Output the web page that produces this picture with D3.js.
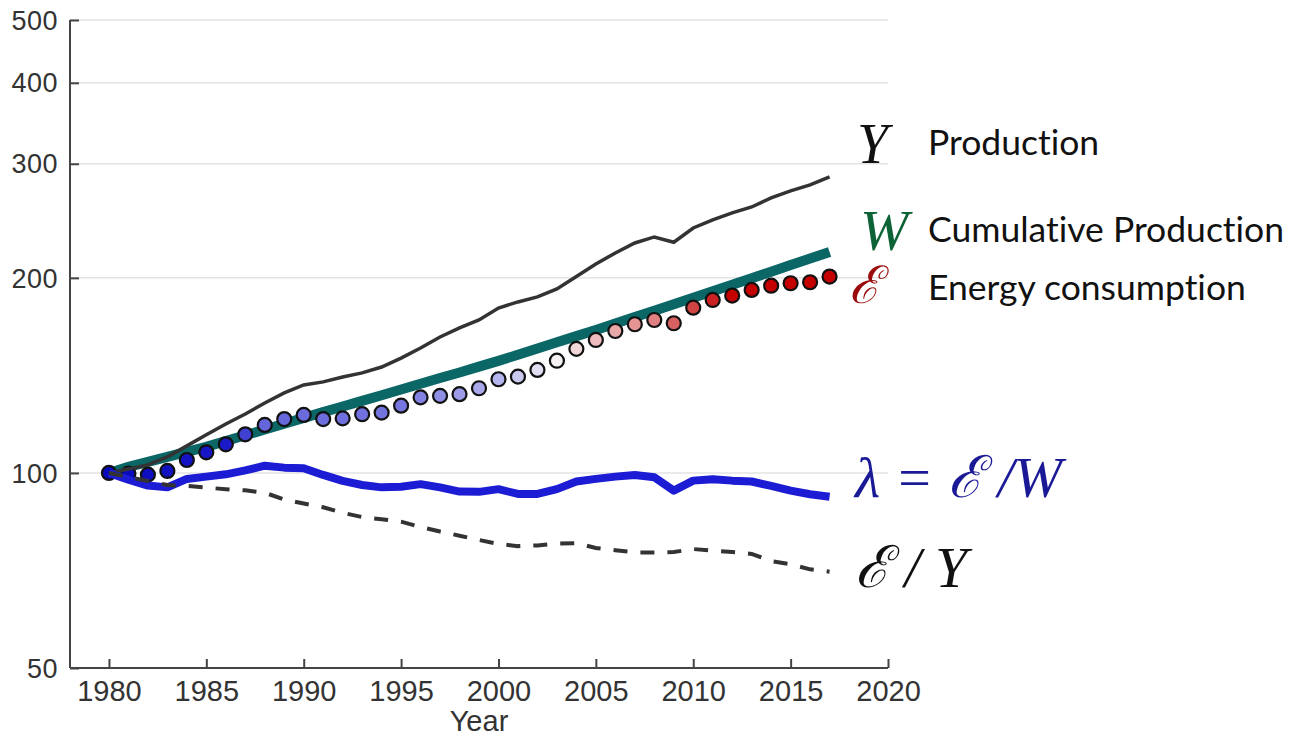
<!DOCTYPE html>
<html>
<head>
<meta charset="utf-8">
<script src="https://cdn.jsdelivr.net/npm/d3@7"></script>
<style>
  body { margin: 0; background: #fff; }
  svg { display: block; }
</style>
</head>
<body>
<div id="graph"></div>
<script>
var years = [1980, 1981, 1982, 1983, 1984, 1985, 1986, 1987, 1988, 1989,
  1990, 1991, 1992, 1993, 1994, 1995, 1996, 1997, 1998, 1999,
  2000, 2001, 2002, 2003, 2004, 2005, 2006, 2007, 2008, 2009,
  2010, 2011, 2012, 2013, 2014, 2015, 2016, 2017];

// Y, production (index 1980 = 100)
var production = [100, 101.4, 102.9, 105.9, 110.1, 114.5, 119.0, 123.3, 128.2, 132.9,
  136.7, 138.2, 140.6, 142.7, 145.7, 150.4, 155.9, 162.1, 167.4, 172.2,
  179.7, 183.6, 186.9, 192.3, 201.0, 210.1, 218.5, 226.4, 231.3, 227.0,
  238.8, 245.7, 251.9, 257.3, 265.7, 272.4, 278.3, 286.3];

// W, cumulative production
var cumulative = [100, 102.2, 104.0, 105.9, 107.8, 109.7, 112.0, 114.3, 116.7, 119.1,
  121.6, 124.1, 126.6, 129.2, 131.8, 134.5, 137.3, 140.1, 142.9, 145.9,
  148.9, 152.2, 155.6, 159.1, 162.6, 166.2, 170.1, 174.0, 178.0, 182.1,
  186.3, 190.7, 195.1, 199.7, 204.4, 209.3, 214.2, 219.3];

// E, energy consumption
var energy = [100, 99.8, 99.4, 100.7, 104.7, 107.6, 110.7, 114.7, 118.6, 121.1,
  122.9, 121.1, 121.4, 123.2, 123.9, 127.0, 130.8, 131.5, 132.3, 135.1,
  139.5, 140.8, 144.2, 149.0, 155.4, 160.4, 165.6, 169.6, 172.2, 170.2,
  179.9, 184.9, 187.8, 191.6, 194.5, 196.2, 196.9, 200.9];

// lambda = E/W
var lambda = [100, 97.6, 95.6, 95.0, 97.9, 98.7, 99.5, 100.9, 102.6, 101.9,
  101.7, 99.3, 97.2, 95.8, 95.0, 95.2, 96.1, 95.0, 93.6, 93.5,
  94.4, 92.8, 92.8, 94.4, 97.0, 97.9, 98.7, 99.3, 98.5, 93.9,
  97.3, 97.8, 97.3, 97.0, 95.5, 93.9, 92.7, 91.9];

// E/Y
var intensity = [100, 98.5, 97.2, 95.8, 95.5, 94.9, 94.4, 94.0, 93.2, 91.0,
  89.7, 88.5, 86.8, 85.5, 84.8, 84.1, 82.5, 81.2, 80.0, 78.8,
  77.7, 77.1, 77.3, 77.8, 77.9, 76.6, 76.0, 75.4, 75.4, 75.5,
  76.3, 75.9, 75.5, 75.0, 73.1, 72.3, 71.0, 70.4];

var xTicks = [1980, 1985, 1990, 1995, 2000, 2005, 2010, 2015, 2020];
var yTicks = [50, 100, 200, 300, 400, 500];

var width = 1308;
var height = 736;
var plotLeft = 70, plotRight = 888, plotTop = 20, plotBottom = 668;

var svg = d3.select("#graph").
append("svg").
attr("width", width).
attr("height", height);

var xScale = d3.scaleLinear().domain([1978, 2020]).range([plotLeft, plotRight]);
var yScale = d3.scaleLog().domain([50, 500]).range([plotBottom, plotTop]);

var dotColor = d3.scaleLinear().
domain([1980, 1986, 1988, 1995, 2000, 2003, 2005, 2008, 2010, 2012]).
range(["#0808bc", "#1a1ac8", "#6666dc", "#7676e0", "#b4b4ee", "#f6f2f4", "#eebcbc", "#e08080", "#d04444", "#c40000"]).
clamp(true);

// grid
svg.append("g").
selectAll("line").
data(yTicks.filter(function (d) {return d !== 50;})).
enter().
append("line").
attr("x1", plotLeft).
attr("x2", plotRight).
attr("y1", function (d) {return yScale(d);}).
attr("y2", function (d) {return yScale(d);}).
style("stroke", "#e3e3e3").
style("stroke-width", 1.5);

var xAxis = d3.axisBottom(xScale).tickValues(xTicks).tickFormat(d3.format("d")).tickSize(-9).tickPadding(12);
var yAxis = d3.axisLeft(yScale).tickValues(yTicks).tickFormat(d3.format("d")).tickSize(-9).tickPadding(12);

var gx = svg.append("g").
attr("transform", "translate(0," + plotBottom + ")").
call(xAxis);
gx.select(".domain").attr("d", "M" + plotLeft + ",0H" + plotRight);

var gy = svg.append("g").
attr("transform", "translate(" + plotLeft + ",0)").
call(yAxis);
gy.select(".domain").attr("d", "M0," + plotTop + "V" + plotBottom);

svg.selectAll(".domain, .tick line").
style("stroke", "#444").
style("stroke-width", 2);

gx.selectAll("text").
style("font-family", "Liberation Sans, Arial, sans-serif").
style("font-size", "29px").
style("fill", "#333");

gy.selectAll("text").
style("font-family", "Liberation Sans, Arial, sans-serif").
style("font-size", "27px").
style("letter-spacing", "0.5px").
style("fill", "#333").
attr("dy", "0.34em");

svg.append("text").
attr("x", (plotLeft + plotRight) / 2).
attr("y", 731).
style("text-anchor", "middle").
style("font-family", "Liberation Sans, Arial, sans-serif").
style("font-size", "29px").
style("fill", "#333").
text("Year");

function series(values) {
  return years.map(function (y, i) {return { year: y, value: values[i] };});
}

var line = d3.line().
x(function (d) {return xScale(d.year);}).
y(function (d) {return yScale(d.value);});

// W
svg.append("path").
datum(series(cumulative)).
attr("d", line).
style("fill", "none").
style("stroke", "#0b6666").
style("stroke-width", 10);

// E dots
svg.append("g").
selectAll("circle").
data(series(energy)).
enter().
append("circle").
attr("cx", function (d) {return xScale(d.year);}).
attr("cy", function (d) {return yScale(d.value);}).
attr("r", 7).
style("fill", function (d) {return dotColor(d.year);}).
style("stroke", "#111").
style("stroke-width", 2.2);

// Y
svg.append("path").
datum(series(production)).
attr("d", line).
style("fill", "none").
style("stroke", "#333").
style("stroke-width", 3.5);

// lambda
svg.append("path").
datum(series(lambda)).
attr("d", line).
style("fill", "none").
style("stroke", "#1c1cd4").
style("stroke-width", 8).
style("stroke-linejoin", "round");

// E/Y
svg.append("path").
datum(series(intensity)).
attr("d", line).
style("fill", "none").
style("stroke", "#333").
style("stroke-width", 4).
style("stroke-dasharray", "14,13");

// labels
var mathFont = "Liberation Serif, DejaVu Serif, serif";
var textFont = "Lato, Open Sans, sans-serif";

var labels = [
{ x: 857, y: 163, text: "Y", color: "#111", size: 56 },
{ x: 860, y: 250, text: "W", color: "#0d6236", size: 58 },
{ x: 849, y: 303, text: "ℰ", color: "#9a0c0c", size: 52 },
{ x: 855, y: 497, text: "λ = ℰ /W", color: "#1a1a96", size: 58 },
{ x: 855, y: 587, text: "ℰ / Y", color: "#111", size: 58 }];


svg.append("g").
selectAll("text").
data(labels).
enter().
append("text").
attr("x", function (d) {return d.x;}).
attr("y", function (d) {return d.y;}).
style("font-family", mathFont).
style("font-style", "italic").
style("font-size", function (d) {return d.size + "px";}).
style("fill", function (d) {return d.color;}).
style("white-space", "pre").
text(function (d) {return d.text;});

var names = [
{ y: 155, text: "Production" },
{ y: 242, text: "Cumulative Production" },
{ y: 300, text: "Energy consumption" }];


svg.append("g").
selectAll("text").
data(names).
enter().
append("text").
attr("x", 928).
attr("y", function (d) {return d.y;}).
style("font-family", textFont).
style("font-size", "35.5px").
style("font-variant-ligatures", "none").
style("fill", "#111").
text(function (d) {return d.text;});
</script>
</body>
</html>
